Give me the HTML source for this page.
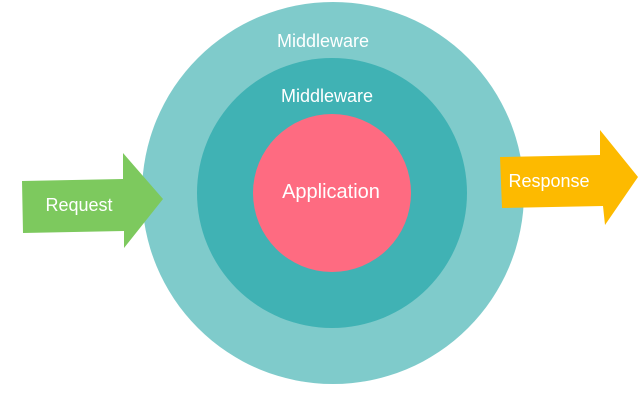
<!DOCTYPE html>
<html><head><style>body{margin:0;background:#fff}svg{display:block}</style></head>
<body>
<svg width="640" height="407" viewBox="0 0 640 407" xmlns="http://www.w3.org/2000/svg" font-family="Liberation Sans, sans-serif">
<circle cx="333" cy="193" r="191" fill="#7fcbcb"/>
<circle cx="332" cy="193" r="135" fill="#40b2b4"/>
<circle cx="332" cy="193" r="79" fill="#fe6b81"/>
<polygon points="22,181 123,179 123,153 163,199 124,248 124,231 23,233" fill="#7dc95e"/>
<polygon points="500,157 600,155 600,130 638,177 605,225 603,206 502,208" fill="#fdba00"/>
<g fill="#fff" text-anchor="middle">
<text x="323" y="47" font-size="18">Middleware</text>
<text x="327" y="102" font-size="18">Middleware</text>
<text x="331" y="198" font-size="20">Application</text>
<text x="79" y="211" font-size="18">Request</text>
<text x="549" y="187" font-size="18">Response</text>
</g>
</svg>
</body></html>
